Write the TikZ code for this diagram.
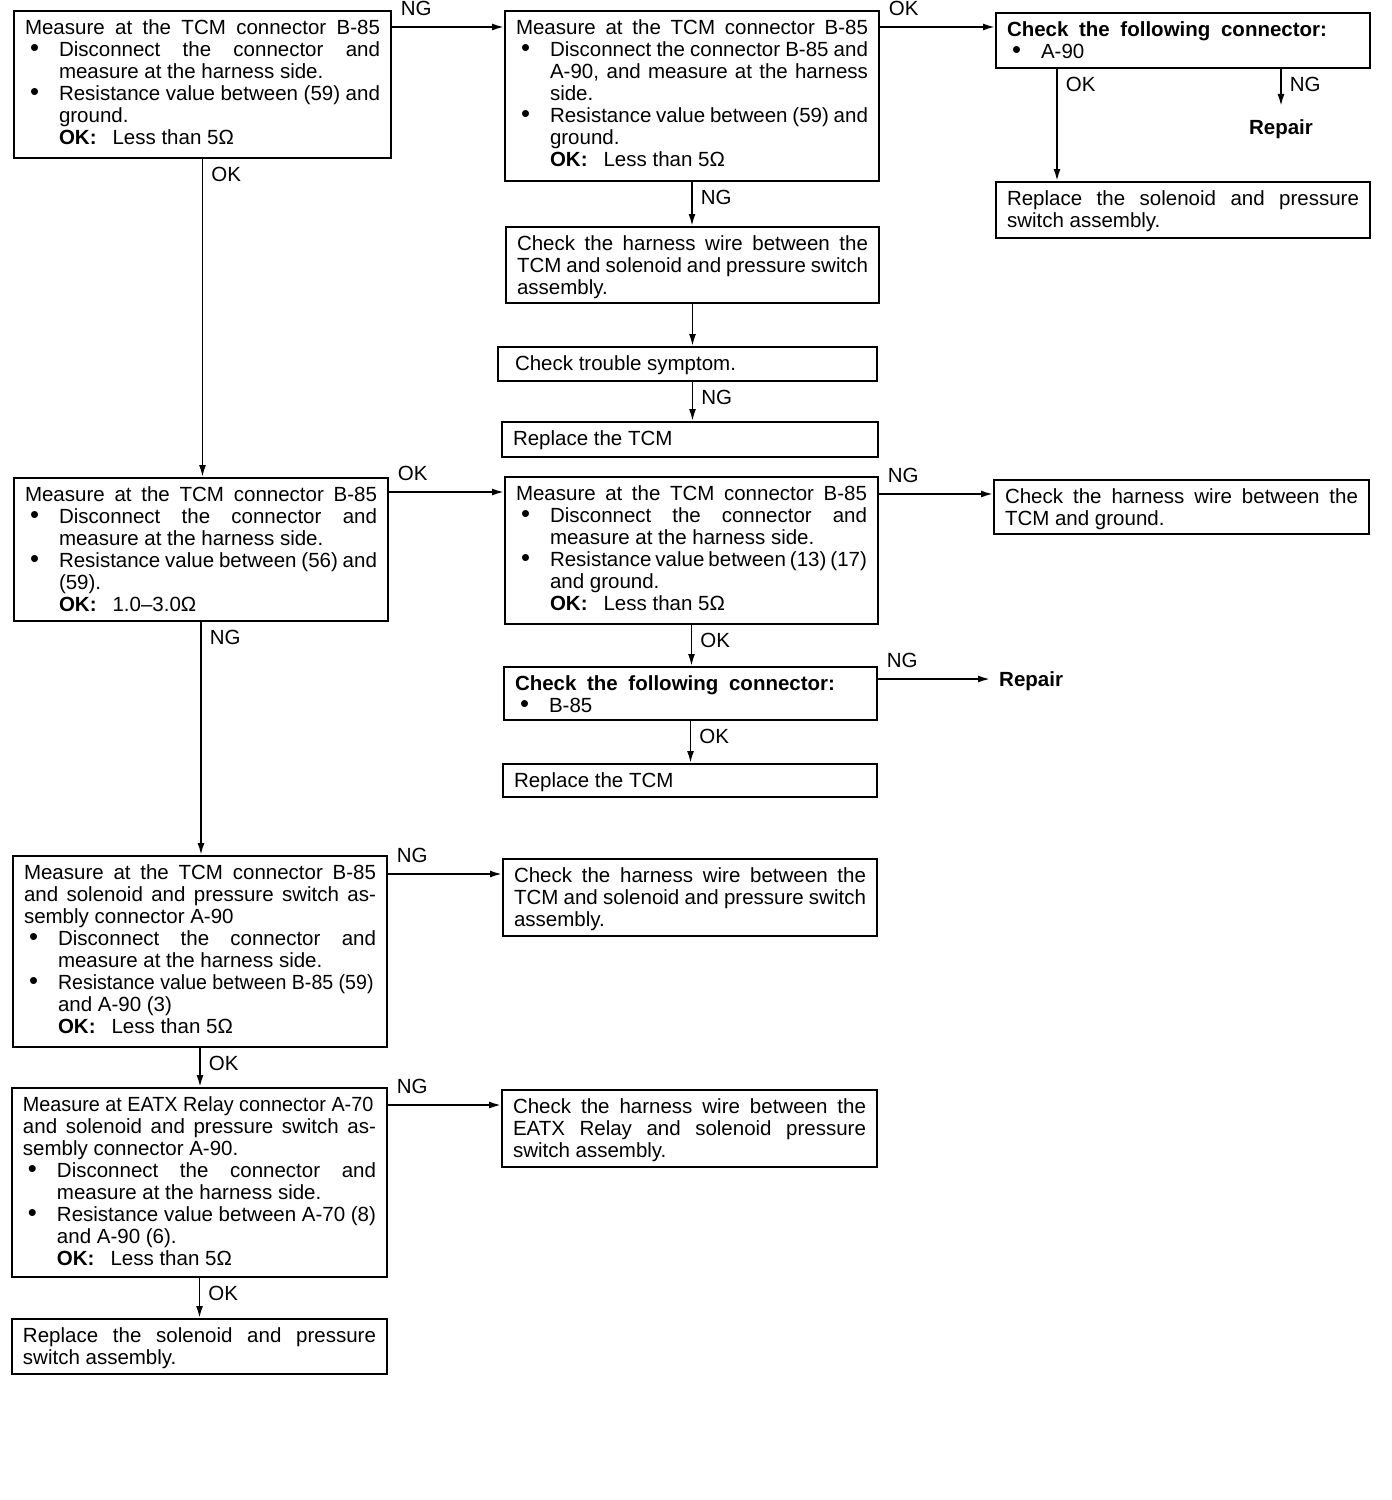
\documentclass[tikz,border=0pt]{standalone}
\usepackage{fontspec}
\setmainfont{Liberation Sans}
\usetikzlibrary{arrows.meta}
\newcommand\bx[3]{\parbox[c][\dimexpr#2pt-16pt\relax][t]{\dimexpr#1pt-22pt\relax}{\hyphenpenalty=10000 \exhyphenpenalty=10000 \tolerance=10000 \strut#3}}
\newcommand\itm{\par\hangindent=34pt\hangafter=1\noindent\makebox[34pt][l]{\hspace{5pt}\raisebox{-0.5pt}{\scalebox{1.25}{\textbullet}}}}
\newcommand\fullln[1]{{\parfillskip=0pt\relax #1\par}}
\newcommand\okv{\textbf{OK:}\hspace{16pt}}
\newcommand\sqz[2]{\scalebox{#1}[1]{#2}}
\begin{document}
\begin{tikzpicture}[x=1pt,y=-1pt,
  every node/.style={font=\fontsize{20.5pt}{22pt}\selectfont},
  box/.style={draw, line width=2pt, inner xsep=11pt, inner ysep=8pt, anchor=north west},
  arr/.style={line width=1.8pt, -{Latex[length=12pt,width=7pt]}},
  lab/.style={inner sep=0pt},
  labh/.style={lab, pos=0, anchor=south west, xshift=8pt, yshift=10pt},
  labv/.style={lab, pos=0, anchor=north west, xshift=8pt, yshift=-7pt},
  rep/.style={font=\fontsize{20.5pt}{22pt}\selectfont\bfseries}]
\useasboundingbox (0,0) rectangle (1392,1500);

% left column
\node[box] (A1) at (13,10) {\bx{377}{147}{\fullln{Measure at the TCM connector B-85}\itm Disconnect the connector and\linebreak measure at the harness side.\itm Resistance value between (59) and\linebreak ground.\\\okv Less than 5Ω}};
\node[box] (A2) at (13,477) {\bx{374}{143}{\fullln{Measure at the TCM connector B-85}\itm Disconnect the connector and\linebreak measure at the harness side.\itm Resistance value between (56) and\linebreak (59).\\\okv 1.0–3.0Ω}};
\node[box] (A3) at (12,855) {\bx{374}{191}{Measure at the TCM connector B-85\linebreak and solenoid and pressure switch as-\linebreak sembly connector A-90\itm Disconnect the connector and\linebreak measure at the harness side.\itm \sqz{0.955}{Resistance value between B-85 (59)}\linebreak and A-90 (3)\\\okv Less than 5Ω}};
\node[box] (A4) at (11,1087) {\bx{375}{189}{\sqz{0.965}{Measure at EATX Relay connector A-70}\linebreak and solenoid and pressure switch as-\linebreak sembly connector A-90.\itm Disconnect the connector and\linebreak measure at the harness side.\itm Resistance value between A-70 (8)\linebreak and A-90 (6).\\\okv Less than 5Ω}};
\node[box] (A5) at (11,1318) {\bx{375}{55}{Replace the solenoid and pressure\linebreak switch assembly.}};

% middle column
\node[box] (B1) at (504,10) {\bx{374}{170}{\fullln{Measure at the TCM connector B-85}\itm Disconnect the connector B-85 and\linebreak A-90, and measure at the harness\linebreak side.\itm Resistance value between (59) and\linebreak ground.\\\okv Less than 5Ω}};
\node[box] (B2) at (505,226) {\bx{373}{76}{Check the harness wire between the\linebreak TCM and solenoid and pressure switch\linebreak assembly.}};
\node[box] (B3) at (497,346) {\bx{379}{34}{\hspace*{6pt}Check trouble symptom.}};
\node[box] (B4) at (501,421) {\bx{376}{35}{Replace the TCM}};
\node[box] (B5) at (504,476) {\bx{373}{147}{\fullln{Measure at the TCM connector B-85}\itm Disconnect the connector and\linebreak measure at the harness side.\itm Resistance value between (13) (17)\linebreak and ground.\\\okv Less than 5Ω}};
\node[box] (B6) at (503,666) {\bx{373}{53}{\makebox[320pt][s]{\textbf{Check the following connector:}}\itm B-85}};
\node[box] (B7) at (502,763) {\bx{374}{33}{Replace the TCM}};
\node[box] (B8) at (502,858) {\bx{374}{77}{Check the harness wire between the\linebreak TCM and solenoid and pressure switch\linebreak assembly.}};
\node[box] (B9) at (501,1089) {\bx{375}{77}{Check the harness wire between the\linebreak EATX Relay and solenoid pressure\linebreak switch assembly.}};

% right column
\node[box] (C1) at (995,12) {\bx{374}{55}{\makebox[320pt][s]{\textbf{Check the following connector:}}\itm A-90}};
\node[box] (C2) at (995,181) {\bx{374}{56}{Replace the solenoid and pressure\linebreak switch assembly.}};
\node[box] (C3) at (993,479) {\bx{375}{54}{Check the harness wire between the\linebreak TCM and ground.}};
\node[rep, anchor=base, inner xsep=0pt, inner ysep=13pt] (R1) at (1281,134) {Repair};
\node[rep, anchor=base west, inner xsep=9pt, inner ysep=0pt] (R2) at (990,686) {Repair};

% helper levels
\coordinate (h1) at (0,27);
\coordinate (h2) at (0,492);
\coordinate (h3) at (0,494);
\coordinate (h4) at (0,679);
\coordinate (h5) at (0,874);
\coordinate (h6) at (0,1105);
\coordinate (v1) at (1057,0);

% horizontal connectors
\draw[arr] (A1.east |- h1) -- node[labh]{NG} (B1.west |- h1);
\draw[arr] (B1.east |- h1) -- node[labh]{OK} (C1.west |- h1);
\draw[arr] (A2.east |- h2) -- node[labh]{OK} (B5.west |- h2);
\draw[arr] (B5.east |- h3) -- node[labh]{NG} (C3.west |- h3);
\draw[arr] (B6.east |- h4) -- node[labh]{NG} (R2.west |- h4);
\draw[arr] (A3.east |- h5) -- node[labh]{NG} (B8.west |- h5);
\draw[arr] (A4.east |- h6) -- node[labh]{NG} (B9.west |- h6);

% vertical connectors
\draw[arr] (A1.south) -- node[labv]{OK} (A1.south |- A2.north);
\draw[arr] (A2.south) -- node[labv]{NG} (A2.south |- A3.north);
\draw[arr] (A3.south) -- node[labv]{OK} (A3.south |- A4.north);
\draw[arr] (A4.south) -- node[labv]{OK} (A4.south |- A5.north);
\draw[arr] (B1.south) -- node[labv]{NG} (B1.south |- B2.north);
\draw[arr] (B2.south) -- (B2.south |- B3.north);
\draw[arr] (B2.south |- B3.south) -- node[labv]{NG} (B2.south |- B4.north);
\draw[arr] (B5.south) -- node[labv]{OK} (B5.south |- B6.north);
\draw[arr] (B6.south) -- node[labv]{OK} (B6.south |- B7.north);
\draw[arr] (C1.south -| v1) -- node[labv]{OK} (C2.north -| v1);
\draw[arr] (C1.south -| R1.north) -- node[labv]{NG} (R1.north);
\end{tikzpicture}
\end{document}
